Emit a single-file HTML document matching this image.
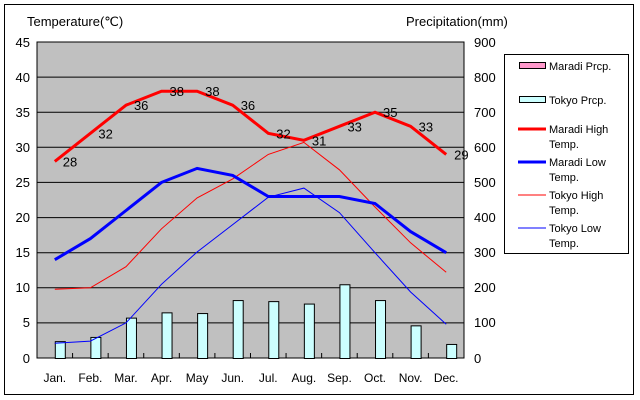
<!DOCTYPE html>
<html><head><meta charset="utf-8"><style>body{margin:0;background:#fff}svg{display:block;font-family:"Liberation Sans",sans-serif}</style></head><body>
<svg width="640" height="400" viewBox="0 0 640 400">
<rect x="4.5" y="4.5" width="629" height="390" fill="#fff" stroke="#000"/>
<rect x="37" y="42" width="427" height="316" fill="#c0c0c0" stroke="#000"/>
<g stroke="#000" stroke-width="1">
<line x1="37" x2="464" y1="77.1" y2="77.1"/><line x1="37" x2="464" y1="112.2" y2="112.2"/><line x1="37" x2="464" y1="147.3" y2="147.3"/><line x1="37" x2="464" y1="182.4" y2="182.4"/><line x1="37" x2="464" y1="217.6" y2="217.6"/><line x1="37" x2="464" y1="252.7" y2="252.7"/><line x1="37" x2="464" y1="287.8" y2="287.8"/><line x1="37" x2="464" y1="322.9" y2="322.9"/>
</g>
<g id="bars" fill="#ccffff" stroke="#000"></g>
<g id="ticks" stroke="#000"></g>
<polyline id="tl" fill="none" stroke="#0000ff" stroke-width="1"/>
<polyline id="th" fill="none" stroke="#ff0000" stroke-width="1"/>
<polyline id="ml" fill="none" stroke="#0000ff" stroke-width="3"/>
<polyline id="mh" fill="none" stroke="#ff0000" stroke-width="3"/>
<g id="lbl" font-size="13" fill="#000"></g>
<g font-size="13" text-anchor="end" fill="#000">
<text x="30" y="47">45</text><text x="30" y="82">40</text><text x="30" y="117">35</text><text x="30" y="152">30</text><text x="30" y="187">25</text><text x="30" y="222">20</text><text x="30" y="257">15</text><text x="30" y="292">10</text><text x="30" y="327">5</text><text x="30" y="363">0</text>
</g>
<g font-size="13" fill="#000">
<text x="474" y="47">900</text><text x="474" y="82">800</text><text x="474" y="117">700</text><text x="474" y="152">600</text><text x="474" y="187">500</text><text x="474" y="222">400</text><text x="474" y="257">300</text><text x="474" y="292">200</text><text x="474" y="327">100</text><text x="474" y="363">0</text>
<text x="27" y="26">Temperature(℃)</text><text x="406" y="26">Precipitation(mm)</text>
</g>
<g id="mon" font-size="12" text-anchor="middle" fill="#000"></g>
<rect x="504.5" y="54.5" width="124" height="199" fill="#fff" stroke="#000"/>
<g font-size="11" fill="#000">
<rect x="519.5" y="62.5" width="26" height="6" fill="#ff99cc" stroke="#000"/><text x="549" y="70">Maradi Prcp.</text>
<rect x="519.5" y="96.5" width="26" height="6" fill="#ccffff" stroke="#000"/><text x="549" y="104">Tokyo Prcp.</text>
<line x1="518" x2="546" y1="129" y2="129" stroke="#f00" stroke-width="3"/><text x="549" y="133">Maradi High</text><text x="549" y="148">Temp.</text>
<line x1="518" x2="546" y1="162" y2="162" stroke="#00f" stroke-width="3"/><text x="549" y="166">Maradi Low</text><text x="549" y="181">Temp.</text>
<line x1="518" x2="546" y1="195" y2="195" stroke="#f00"/><text x="549" y="199">Tokyo High</text><text x="549" y="214">Temp.</text>
<line x1="518" x2="546" y1="228" y2="228" stroke="#00f"/><text x="549" y="232">Tokyo Low</text><text x="549" y="247">Temp.</text>
</g>
</svg>
<script>
var NS="http://www.w3.org/2000/svg";
function X(i){return 54.8+i*35.58}function Y(t){return 358-t*7.022}
var mh=[28,32,36,38,38,36,32,31,33,35,33,29],ml=[14,17,21,25,27,26,23,23,23,22,18,15],
th=[9.8,10,13,18.4,22.8,25.5,29,30.7,26.8,21.5,16.4,12.2],tl=[2.1,2.4,5,10.5,15.1,19,22.9,24.2,20.7,15,9.4,4.8],
pr=[48,60,115,130,128,165,162,155,210,165,93,40],mn=["Jan.","Feb.","Mar.","Apr.","May","Jun.","Jul.","Aug.","Sep.","Oct.","Nov.","Dec."];
function pts(a){return a.map(function(v,i){return X(i).toFixed(1)+","+Y(v).toFixed(1)}).join(" ")}
["mh","ml","th","tl"].forEach(function(k){document.getElementById(k).setAttribute("points",pts(eval(k)))});
function el(t,a,p,txt){var e=document.createElementNS(NS,t);for(var k in a)e.setAttribute(k,a[k]);if(txt)e.textContent=txt;document.getElementById(p).appendChild(e)}
for(var i=0;i<12;i++){var h=pr[i]*316/900;el("rect",{x:X(i)+0.5,y:358-h+0.5,width:10,height:h},"bars");
if(i>0)el("line",{x1:37+i*35.58,x2:37+i*35.58,y1:353,y2:358},"ticks");
el("text",{x:X(i),y:382},"mon",mn[i]);el("text",{x:X(i)+8,y:Y(mh[i])+5},"lbl",String(mh[i]));}
</script>
</body></html>
